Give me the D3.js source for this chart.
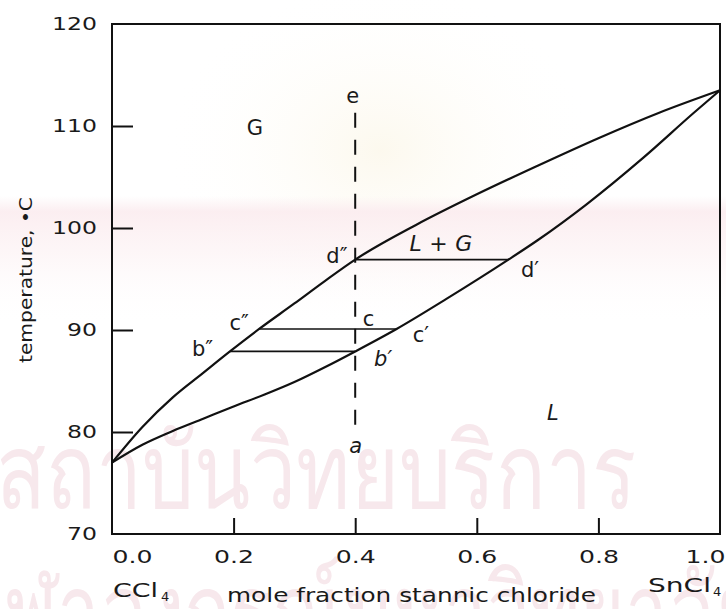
<!DOCTYPE html>
<html>
<head>
<meta charset="utf-8">
<script src="https://cdn.jsdelivr.net/npm/d3@7/dist/d3.min.js"></script>
<style>
  html, body { margin: 0; padding: 0; background: #ffffff; }
  svg { display: block; }
  text { font-family: "DejaVu Sans", "Noto Sans", sans-serif; fill: #1a1a1a; }
</style>
</head>
<body>
<svg id="chart" width="726" height="609"></svg>
<script>
// Boiling-point diagram for CCl4 / SnCl4 at constant pressure.
// Vapour (dew) curve: mole fraction SnCl4 vs temperature (°C)
const vaporX = [0.00, 0.05, 0.10, 0.15, 0.194, 0.242, 0.30, 0.35, 0.40, 0.50, 0.60, 0.70, 0.80, 0.90, 1.00];
const vaporT = [77.0, 80.5, 83.4, 85.8, 87.9, 90.1, 92.6, 94.8, 96.9, 100.3, 103.3, 106.1, 108.8, 111.3, 113.5];
// Liquid (bubble) curve
const liquidX = [0.00, 0.05, 0.10, 0.15, 0.20, 0.25, 0.30, 0.35, 0.40, 0.468, 0.55, 0.652, 0.70, 0.78, 0.874, 0.957, 1.00];
const liquidT = [77.0, 78.75, 80.1, 81.3, 82.5, 83.65, 84.9, 86.35, 87.9, 90.1, 93.05, 96.9, 98.8, 102.3, 106.9, 111.3, 113.5];
// Tie lines b''–b', c''–c', d''–d'
const tieT = [87.9, 90.1, 96.9];
const tieFrom = [0.194, 0.242, 0.400];
const tieTo = [0.400, 0.468, 0.652];
// Overall composition of the system (vertical path a → e)
const systemX = 0.4;
const systemT = [80.5, 111.3];
// Axis ticks
const xTicks = [0.2, 0.4, 0.6, 0.8];
const xTickLabels = [0.0, 0.2, 0.4, 0.6, 0.8, 1.0];
const yTicks = [80, 90, 100, 110];
const yTickLabels = [70, 80, 90, 100, 110, 120];
// Point and region labels: [text, x, T, italic]
const pointLabels = [
  ["e", 0.396, 112.9, false],
  ["G", 0.235, 109.8, false],
  ["d\u2033", 0.370, 97.25, false],
  ["d\u2032", 0.6875, 95.9, false],
  ["c\u2033", 0.209, 90.64, false],
  ["c", 0.422, 91.08, false],
  ["c\u2032", 0.508, 89.5, false],
  ["b\u2033", 0.149, 88.09, false],
  ["b\u2032", 0.446, 87.16, true],
  ["a", 0.401, 78.6, true],
  ["L", 0.725, 81.86, true]
];

const svg = d3.select("#chart");
const x = d3.scaleLinear().domain([0, 1]).range([112, 720]);
const y = d3.scaleLinear().domain([70, 120]).range([534, 24]);

// faint background tint and lettering
const defs = svg.append("defs");
const band = defs.append("linearGradient").attr("id", "band").attr("x1", 0).attr("y1", 0).attr("x2", 0).attr("y2", 1);
band.append("stop").attr("offset", 0).attr("stop-color", "#fbecef").attr("stop-opacity", 0);
band.append("stop").attr("offset", 0.12).attr("stop-color", "#fbecef").attr("stop-opacity", 0.9);
band.append("stop").attr("offset", 0.45).attr("stop-color", "#fcf1f3").attr("stop-opacity", 0.6);
band.append("stop").attr("offset", 1).attr("stop-color", "#ffffff").attr("stop-opacity", 0);
const glow = defs.append("radialGradient").attr("id", "glow");
glow.append("stop").attr("offset", 0).attr("stop-color", "#fcf8ec").attr("stop-opacity", 0.9);
glow.append("stop").attr("offset", 1).attr("stop-color", "#ffffff").attr("stop-opacity", 0);
svg.append("ellipse").attr("cx", 380).attr("cy", 150).attr("rx", 220).attr("ry", 170).attr("fill", "url(#glow)");
svg.append("rect").attr("x", 0).attr("y", 196).attr("width", 726).attr("height", 130).attr("fill", "url(#band)");

const wm = svg.append("g").attr("class", "watermark");
wm.append("text").attr("x", -4).attr("y", 508)
  .attr("textLength", 640).attr("lengthAdjust", "spacingAndGlyphs")
  .style("font-size", "104px").style("fill", "#f7e8ec")
  .text("สถาบันวิทยบริการ");
wm.append("text").attr("x", -40).attr("y", 648)
  .attr("textLength", 800).attr("lengthAdjust", "spacingAndGlyphs")
  .style("font-size", "104px").style("fill", "#f7e8ec")
  .text("จุฬาลงกรณ์มหาวิทยาลัย");

// frame
svg.append("rect")
  .attr("x", x(0)).attr("y", y(120))
  .attr("width", x(1) - x(0)).attr("height", y(70) - y(120))
  .attr("fill", "none").attr("stroke", "#111").attr("stroke-width", 2);

// inward ticks
const yTickAxis = svg.append("g").attr("transform", `translate(${x(0)},0)`)
  .call(d3.axisLeft(y).tickValues(yTicks).tickSize(-21).tickFormat(""));
const xTickAxis = svg.append("g").attr("transform", `translate(0,${y(70)})`)
  .call(d3.axisBottom(x).tickValues(xTicks).tickSize(-16).tickFormat(""));
[yTickAxis, xTickAxis].forEach(g => {
  g.select(".domain").remove();
  g.selectAll(".tick line").attr("stroke", "#111").attr("stroke-width", 2);
});

// tick labels
const yLab = svg.append("g").attr("transform", `translate(${x(0)},0)`)
  .call(d3.axisLeft(y).tickValues(yTickLabels).tickSize(0).tickPadding(15).tickFormat(d3.format("d")));
const xLab = svg.append("g").attr("transform", `translate(0,${y(70)})`)
  .call(d3.axisBottom(x).tickValues(xTickLabels).tickSize(0).tickPadding(16).tickFormat(d3.format(".1f")));
[yLab, xLab].forEach(g => {
  g.select(".domain").remove();
  g.selectAll(".tick text").style("font-size", "18px").style("font-family", "DejaVu Sans")
    .attr("fill", "#1a1a1a").attr("lengthAdjust", "spacingAndGlyphs");
});
yLab.selectAll(".tick text").attr("textLength", d => d >= 100 ? 45 : 30);
xLab.selectAll(".tick text").attr("textLength", 40);
xLab.selectAll(".tick text").filter(d => d === 0).attr("text-anchor", "start").attr("dx", 0);
xLab.selectAll(".tick text").filter(d => d === 1).attr("text-anchor", "end").attr("dx", 5);

// axis titles
svg.append("text").attr("x", x(0) + 1).attr("y", 597).style("font-size", "20px")
  .html('<tspan textLength="45" lengthAdjust="spacingAndGlyphs">CCl</tspan><tspan dx="3" dy="4" style="font-size:13px">4</tspan>');
svg.append("text").attr("x", 648).attr("y", 592).style("font-size", "20px")
  .html('<tspan textLength="63" lengthAdjust="spacingAndGlyphs">SnCl</tspan><tspan dx="2" dy="4" style="font-size:13px">4</tspan>');
svg.append("text").attr("x", 227).attr("y", 602).style("font-size", "19px")
  .attr("textLength", 369).attr("lengthAdjust", "spacingAndGlyphs")
  .text("mole fraction stannic chloride");
svg.append("text").attr("transform", "translate(32,280) rotate(-90)")
  .attr("text-anchor", "middle").style("font-size", "18px")
  .attr("textLength", 166).attr("lengthAdjust", "spacingAndGlyphs")
  .text("temperature, \u2022C");

// phase boundaries
const line = d3.line().x(d => x(d[0])).y(d => y(d[1])).curve(d3.curveMonotoneX);
svg.append("path").datum(d3.zip(vaporX, vaporT)).attr("d", line)
  .attr("fill", "none").attr("stroke", "#111").attr("stroke-width", 2.2);
svg.append("path").datum(d3.zip(liquidX, liquidT)).attr("d", line)
  .attr("fill", "none").attr("stroke", "#111").attr("stroke-width", 2.2);

// tie lines
svg.append("g").selectAll("line").data(d3.range(tieT.length)).join("line")
  .attr("x1", i => x(tieFrom[i])).attr("x2", i => x(tieTo[i]))
  .attr("y1", i => y(tieT[i])).attr("y2", i => y(tieT[i]))
  .attr("stroke", "#111").attr("stroke-width", 1.6);

// composition path a–e
svg.append("line")
  .attr("x1", x(systemX)).attr("x2", x(systemX))
  .attr("y1", y(systemT[1])).attr("y2", y(systemT[0]))
  .attr("stroke", "#111").attr("stroke-width", 2).attr("stroke-dasharray", "15,12");

// point and region labels
svg.append("g").selectAll("text").data(pointLabels).join("text")
  .attr("x", d => x(d[1])).attr("y", d => y(d[2]))
  .attr("text-anchor", "middle").attr("dominant-baseline", "central")
  .style("font-size", "21px")
  .style("font-style", d => d[3] ? "italic" : "normal")
  .text(d => d[0]);
// two-phase region label
svg.append("text").attr("x", x(0.541)).attr("y", y(98.5))
  .attr("text-anchor", "middle").attr("dominant-baseline", "central")
  .attr("textLength", 63).attr("lengthAdjust", "spacing")
  .style("font-size", "22px").style("font-style", "italic")
  .text("L+G");
</script>
</body>
</html>
